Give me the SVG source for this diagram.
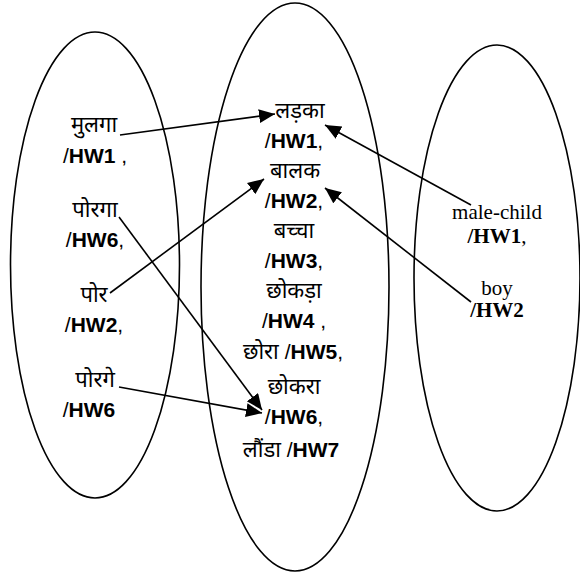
<svg xmlns="http://www.w3.org/2000/svg" width="580" height="573" viewBox="0 0 580 573">
  <style>
    .set { fill: none; stroke: #000; stroke-width: 1.6; }
    .link { fill: none; stroke: #000; stroke-width: 1.6; }
    .hi { font-family: "Liberation Sans", "Noto Sans", "Noto Sans Devanagari", sans-serif; font-size: 21px; fill: #000; text-anchor: middle; }
    .dv { font-size: 22px; }
    .en { font-family: "Liberation Serif", "Times New Roman", serif; font-size: 21px; fill: #000; text-anchor: middle; }
    .b { font-weight: bold; }
  </style>
  <defs>
    <marker id="arrow" markerUnits="userSpaceOnUse" markerWidth="17" markerHeight="15" refX="16" refY="7" orient="auto">
      <path d="M0,0 L16,7 L0,14 Z" fill="#000"/>
    </marker>
  </defs>
  <rect width="580" height="573" fill="#fff"/>

  <!-- Marathi word set -->
  <g id="set-marathi">
    <ellipse class="set" cx="95" cy="265" rx="84.5" ry="233"/>
    <text class="hi dv" x="94" y="132">मुलगा</text>
    <text class="hi" x="95" y="163">/<tspan class="b">HW1</tspan> ,</text>
    <text class="hi dv" x="95" y="217">पोरगा</text>
    <text class="hi" x="95" y="247">/<tspan class="b">HW6</tspan>,</text>
    <text class="hi dv" x="94" y="302">पोर</text>
    <text class="hi" x="94" y="332">/<tspan class="b">HW2</tspan>,</text>
    <text class="hi dv" x="95" y="387">पोरगे</text>
    <text class="hi" x="89" y="417">/<tspan class="b">HW6</tspan></text>
  </g>

  <!-- Hindi word set -->
  <g id="set-hindi">
    <ellipse class="set" cx="295" cy="287" rx="94" ry="284"/>
    <text class="hi dv" x="300" y="118">लड़का</text>
    <text class="hi" x="294" y="148">/<tspan class="b">HW1</tspan>,</text>
    <text class="hi dv" x="295" y="178">बालक</text>
    <text class="hi" x="294" y="208">/<tspan class="b">HW2</tspan>,</text>
    <text class="hi dv" x="294" y="238">बच्चा</text>
    <text class="hi" x="294" y="268">/<tspan class="b">HW3</tspan>,</text>
    <text class="hi dv" x="294" y="298">छोकड़ा</text>
    <text class="hi" x="294" y="328">/<tspan class="b">HW4</tspan> ,</text>
    <text class="hi" x="293" y="359"><tspan class="dv">छोरा</tspan> /<tspan class="b">HW5</tspan>,</text>
    <text class="hi dv" x="294" y="394">छोकरा</text>
    <text class="hi" x="294" y="424">/<tspan class="b">HW6</tspan>,</text>
    <text class="hi" x="291" y="457"><tspan class="dv">लौंडा</tspan> /<tspan class="b">HW7</tspan></text>
  </g>

  <!-- English word set -->
  <g id="set-english">
    <ellipse class="set" cx="497" cy="278" rx="83" ry="233"/>
    <text class="en" x="497" y="219">male-child</text>
    <text class="en" x="497" y="243"><tspan class="b">/HW1</tspan>,</text>
    <text class="en" x="497" y="295">boy</text>
    <text class="en" x="497" y="317" font-weight="bold">/HW2</text>
  </g>

  <!-- Mappings between the sets -->
  <g id="connectors">
    <line class="link" x1="120" y1="135" x2="275" y2="114" marker-end="url(#arrow)"/>
    <line class="link" x1="119" y1="217" x2="262" y2="410" marker-end="url(#arrow)"/>
    <line class="link" x1="110" y1="293" x2="264" y2="179" marker-end="url(#arrow)"/>
    <line class="link" x1="119" y1="387" x2="262" y2="413" marker-end="url(#arrow)"/>
    <line class="link" x1="471" y1="205" x2="325" y2="125" marker-end="url(#arrow)"/>
    <line class="link" x1="471" y1="302" x2="325" y2="188" marker-end="url(#arrow)"/>
  </g>
</svg>
